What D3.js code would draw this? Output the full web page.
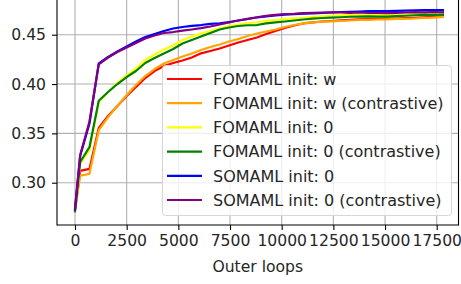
<!DOCTYPE html>
<html>
<head>
<meta charset="utf-8">
<script src="https://cdn.jsdelivr.net/npm/d3@7"></script>
<style>
  body { margin: 0; background: #fff; }
  svg { display: block; font-family: "DejaVu Sans", sans-serif; }
</style>
</head>
<body>
<div id="chart"></div>
<script>
// outer loop checkpoints
var steps = [0, 250, 700, 1150, 1600, 2050, 2500, 2950, 3400, 3850, 4300, 4750, 5200, 5650,
  6100, 6550, 7000, 7450, 7900, 8350, 8800, 9250, 9700, 10150, 10600, 11050, 11500, 11950,
  12400, 12850, 13300, 13750, 14200, 14650, 15100, 15550, 16000, 16450, 16900, 17350, 17800];

var fomamlW = [0.272, 0.312, 0.314, 0.3554, 0.3676, 0.3777, 0.3878, 0.3970, 0.4061, 0.4132, 0.4183,
  0.4213, 0.4238, 0.4269, 0.4311, 0.4335, 0.4360, 0.4390, 0.4421, 0.4446, 0.4472, 0.4507, 0.4538,
  0.4568, 0.4593, 0.4614, 0.4624, 0.4634, 0.4639, 0.4646, 0.4651, 0.4656, 0.4659, 0.4661, 0.4662,
  0.4664, 0.4667, 0.4671, 0.4676, 0.4682, 0.4687];
var fomamlWContr = [0.272, 0.307, 0.309, 0.3533, 0.3665, 0.3777, 0.3888, 0.3990, 0.4081, 0.4152, 0.4208,
  0.4243, 0.4279, 0.4309, 0.4345, 0.4375, 0.4401, 0.4431, 0.4456, 0.4487, 0.4512, 0.4532, 0.4553,
  0.4578, 0.4598, 0.4614, 0.4624, 0.4631, 0.4636, 0.4639, 0.4644, 0.4649, 0.4651, 0.4654, 0.4656,
  0.4659, 0.4661, 0.4664, 0.4669, 0.4674, 0.4680];
var fomaml0 = [0.272, 0.319, 0.333, 0.3817, 0.3919, 0.4010, 0.4091, 0.4157, 0.4243, 0.4299, 0.4350,
  0.4390, 0.4446, 0.4482, 0.4512, 0.4538, 0.4563, 0.4588, 0.4603, 0.4616, 0.4626, 0.4639, 0.4649,
  0.4659, 0.4666, 0.4672, 0.4680, 0.4687, 0.4692, 0.4697, 0.4700, 0.4702, 0.4702, 0.4700, 0.4700,
  0.4703, 0.4707, 0.4710, 0.4713, 0.4715, 0.4717];
var fomaml0Contr = [0.271, 0.321, 0.336, 0.383, 0.3919, 0.4000, 0.4071, 0.4132, 0.4213, 0.4264, 0.4309,
  0.4355, 0.4411, 0.4446, 0.4482, 0.4517, 0.4553, 0.4573, 0.4588, 0.4596, 0.4598, 0.4614, 0.4624,
  0.4634, 0.4644, 0.4654, 0.4662, 0.4669, 0.4674, 0.4677, 0.4682, 0.4683, 0.4685, 0.4683, 0.4683,
  0.4688, 0.4692, 0.4697, 0.4700, 0.4700, 0.4702];
var somaml0 = [0.273, 0.327, 0.360, 0.421, 0.4274, 0.4330, 0.4380, 0.4431, 0.4477, 0.4507, 0.4538,
  0.4563, 0.4578, 0.4590, 0.4598, 0.4609, 0.4616, 0.4629, 0.4644, 0.4659, 0.4674, 0.4685, 0.4695,
  0.4702, 0.4708, 0.4713, 0.4717, 0.4720, 0.4725, 0.4730, 0.4732, 0.4735, 0.4738, 0.4740, 0.4740,
  0.4742, 0.4745, 0.4748, 0.4750, 0.4750, 0.4750];
var somaml0Contr = [0.274, 0.328, 0.362, 0.420, 0.4269, 0.4325, 0.4370, 0.4416, 0.4461, 0.4492, 0.4517,
  0.4527, 0.4541, 0.4553, 0.4566, 0.4583, 0.4603, 0.4624, 0.4644, 0.4661, 0.4677, 0.4690, 0.4700,
  0.4710, 0.4712, 0.4718, 0.4722, 0.4725, 0.4727, 0.4725, 0.4722, 0.4725, 0.4720, 0.4720, 0.4718,
  0.4722, 0.4725, 0.4728, 0.4727, 0.4730, 0.4727];

var labels = ['FOMAML init: w', 'FOMAML init: w (contrastive)', 'FOMAML init: 0',
  'FOMAML init: 0 (contrastive)', 'SOMAML init: 0', 'SOMAML init: 0 (contrastive)'];
var colors = ['#ff0000', '#ffa500', '#ffff00', '#008000', '#0000ff', '#800080'];
var allSeries = [fomamlW, fomamlWContr, fomaml0, fomaml0Contr, somaml0, somaml0Contr];

var xTicks = [0, 2500, 5000, 7500, 10000, 12500, 15000, 17500];
var yTicks = [0.30, 0.35, 0.40, 0.45];

var width = 461, height = 284;
var plot = { left: 57, right: 458.5, top: -1, bottom: 225 };

var svg = d3.select('#chart')
  .append('svg')
  .attr('width', width)
  .attr('height', height);

var x = d3.scaleLinear()
  .domain([0, 17500])
  .range([75, 436.7]);

var y = d3.scaleLinear()
  .domain([0.30, 0.45])
  .range([182.7, 34.7]);

svg.append('clipPath').attr('id', 'plot-clip')
  .append('rect')
  .attr('x', plot.left).attr('y', plot.top)
  .attr('width', plot.right - plot.left).attr('height', plot.bottom - plot.top);

// grid
var grid = svg.append('g').attr('clip-path', 'url(#plot-clip)');
grid.selectAll('.gx')
  .data(xTicks)
  .enter().append('line')
  .attr('x1', function(d) { return x(d); })
  .attr('x2', function(d) { return x(d); })
  .attr('y1', plot.top).attr('y2', plot.bottom)
  .attr('stroke', '#b0b0b0').attr('stroke-width', 1.1);
grid.selectAll('.gy')
  .data(yTicks)
  .enter().append('line')
  .attr('y1', function(d) { return y(d); })
  .attr('y2', function(d) { return y(d); })
  .attr('x1', plot.left).attr('x2', plot.right)
  .attr('stroke', '#b0b0b0').attr('stroke-width', 1.1);

// lines
var line = d3.line()
  .x(function(d, i) { return x(steps[i]); })
  .y(function(d) { return y(d); });

svg.append('g').attr('clip-path', 'url(#plot-clip)')
  .selectAll('path')
  .data(allSeries)
  .enter().append('path')
  .attr('d', line)
  .attr('fill', 'none')
  .attr('stroke', function(d, i) { return colors[i]; })
  .attr('stroke-width', 2.2)
  .attr('stroke-linejoin', 'round')
  .attr('stroke-linecap', 'square');

// axes
var xAxis = svg.append('g')
  .attr('transform', 'translate(0,' + plot.bottom + ')')
  .call(d3.axisBottom(x).tickValues(xTicks).tickSize(5).tickPadding(5).tickFormat(d3.format('d')));
var yAxis = svg.append('g')
  .attr('transform', 'translate(' + plot.left + ',0)')
  .call(d3.axisLeft(y).tickValues(yTicks).tickSize(5).tickPadding(6).tickFormat(d3.format('.2f')));

[xAxis, yAxis].forEach(function(a) {
  a.select('.domain').remove();
  a.selectAll('line').attr('stroke', '#000').attr('stroke-width', 1.1);
  a.selectAll('text').attr('fill', '#262626').attr('font-size', 15.6)
    .attr('font-family', '"DejaVu Sans", sans-serif');
});

// spines
svg.append('line')
  .attr('x1', plot.left).attr('x2', plot.left)
  .attr('y1', plot.top).attr('y2', plot.bottom + 0.5)
  .attr('stroke', '#000').attr('stroke-width', 1.1);
svg.append('line')
  .attr('x1', plot.left).attr('x2', plot.right)
  .attr('y1', plot.bottom).attr('y2', plot.bottom)
  .attr('stroke', '#000').attr('stroke-width', 1.1);
svg.append('line')
  .attr('x1', plot.right).attr('x2', plot.right)
  .attr('y1', plot.top).attr('y2', plot.bottom + 0.5)
  .attr('stroke', '#000').attr('stroke-width', 1.1);

svg.append('text')
  .attr('x', (plot.left + plot.right) / 2)
  .attr('y', 272)
  .attr('text-anchor', 'middle')
  .attr('font-size', 15.6)
  .attr('fill', '#262626')
  .text('Outer loops');

// legend
var legend = svg.append('g');
legend.append('rect')
  .attr('x', 162.5).attr('y', 65.5)
  .attr('width', 289).attr('height', 150)
  .attr('rx', 3)
  .attr('fill', '#fff').attr('fill-opacity', 0.8)
  .attr('stroke', '#d6d6d6').attr('stroke-width', 1);

var rows = legend.selectAll('.row')
  .data(labels)
  .enter().append('g')
  .attr('transform', function(d, i) { return 'translate(0,' + (79 + i * 24.2) + ')'; });
rows.append('line')
  .attr('x1', 167).attr('x2', 202)
  .attr('stroke', function(d, i) { return colors[i]; })
  .attr('stroke-width', 2.2);
rows.append('text')
  .attr('x', 213).attr('y', 5.8)
  .attr('font-size', 16)
  .attr('fill', '#262626')
  .text(function(d) { return d; });
</script>
</body>
</html>
